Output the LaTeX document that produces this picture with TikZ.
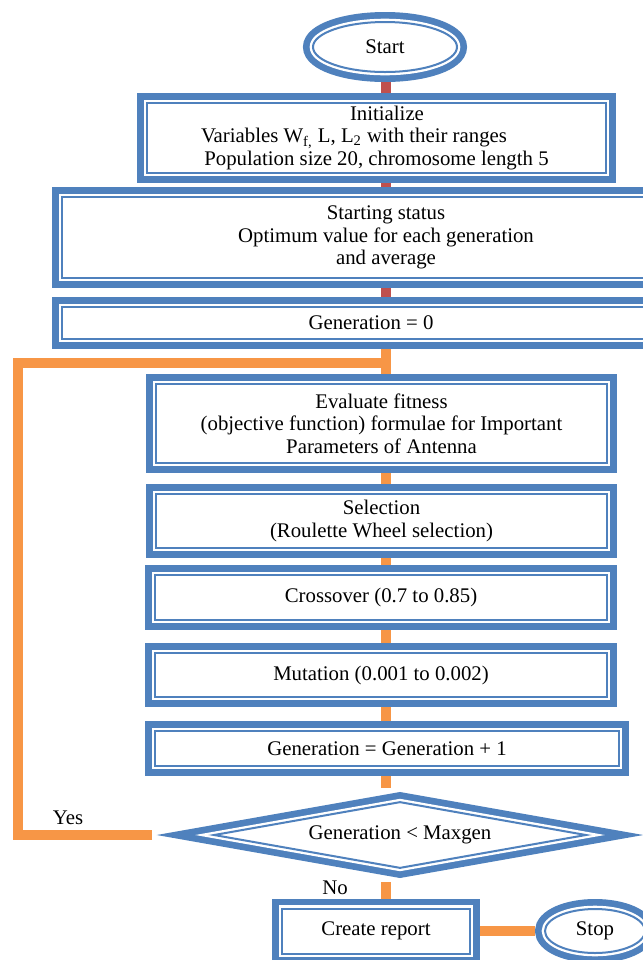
\documentclass[tikz,border=0pt]{standalone}
\usepackage{fontspec}
\setmainfont{Liberation Serif}
\usetikzlibrary{positioning,shapes.geometric}
\definecolor{FlowBlue}{HTML}{4F81BD}
\definecolor{FlowRed}{HTML}{C0504D}
\definecolor{FlowOrange}{HTML}{F79646}

\begin{document}
\begin{tikzpicture}[x=0.5pt, y=-0.5pt,
                    every node/.style={font=\fontsize{10.4pt}{11.3pt}\selectfont, align=center},
                    thickthin/.style={preaction={draw=FlowBlue, line width=10pt},
                                      preaction={draw=white, line width=3.3pt},
                                      draw=FlowBlue, line width=1pt, fill=white,
                                      inner sep=0pt, outer sep=5pt},
                    box/.style={thickthin, rectangle},
                    oval/.style={thickthin, ellipse},
                    test/.style={thickthin, diamond, aspect=5.78},
                    redline/.style={draw=FlowRed, line width=5pt},
                    orangeline/.style={draw=FlowOrange, line width=5pt}]
\useasboundingbox (0,0) rectangle (643,960);
\clip (0,0) rectangle (643,960);
\node[oval, minimum width=72pt, minimum height=25pt] (start) at (385,47) {Start};
\node[box, minimum width=229.5pt, minimum height=35pt] (init) at (376.5,138)
  {\hbox to 10.5pt{}Initialize\\
   Variables W\textsubscript{f,} L, L\textsubscript{2} with their ranges\hbox to 22.5pt{}\\
   Population size 20, chromosome length 5};
\node[box, minimum width=324pt, minimum height=40.5pt] (status) at (386,237.5)
  {Starting status\\Optimum value for each generation\\and average};
\node[box, minimum width=309pt, minimum height=16pt] (gen0) at (371,323) {Generation = 0};
\node[box, minimum width=225.5pt, minimum height=39.5pt] (eval) at (381.5,423.5)
  {Evaluate fitness\\(objective function) formulae for Important\\Parameters of Antenna};
\node[box, minimum width=225.5pt, minimum height=27pt] (sel) at (381.5,521)
  {Selection\\(Roulette Wheel selection)};
\node[box, minimum width=226pt, minimum height=22.5pt] (cross) at (381,597.5) {Crossover (0.7 to 0.85)};
\node[box, minimum width=226pt, minimum height=22pt] (mut) at (381,675) {Mutation (0.001 to 0.002)};
\node[box, minimum width=232pt, minimum height=17.5pt] (genup) at (387,748.5) {Generation = Generation + 1};
\node[test, minimum width=190pt, minimum height=37pt] (check) at (400,835) {Generation < Maxgen};
\node[box, minimum width=94pt, minimum height=22.5pt] (report) at (376,931) {Create report};
\node[oval, minimum width=50pt, minimum height=22pt] (stop) at (595,931) {Stop};
\node (yes) at (68,818) {Yes};
\node (no) at (335,888) {No};
\coordinate (spine) at (386,0);
\coordinate (back) at (18,363);
\draw[redline] (start.south -| spine) -- (init.north -| spine);
\draw[redline] (init.south -| spine) -- (status.north -| spine);
\draw[redline] (status.south -| spine) -- (gen0.north -| spine);
\draw[orangeline] (gen0.south -| spine) -- (eval.north -| spine);
\draw[orangeline] ([xshift=-24pt]check.west) -| (back) -- (back -| spine);
\draw[orangeline] (eval.south -| spine) -- (sel.north -| spine);
\draw[orangeline] (sel.south -| spine) -- (cross.north -| spine);
\draw[orangeline] (cross.south -| spine) -- (mut.north -| spine);
\draw[orangeline] (mut.south -| spine) -- (genup.north -| spine);
\draw[orangeline] (genup.south -| spine) -- (check.north -| spine);
\draw[orangeline] (check.south -| spine) -- (report.north -| spine);
\draw[orangeline] (report.east) -- (stop.west);
\end{tikzpicture}
\end{document}
